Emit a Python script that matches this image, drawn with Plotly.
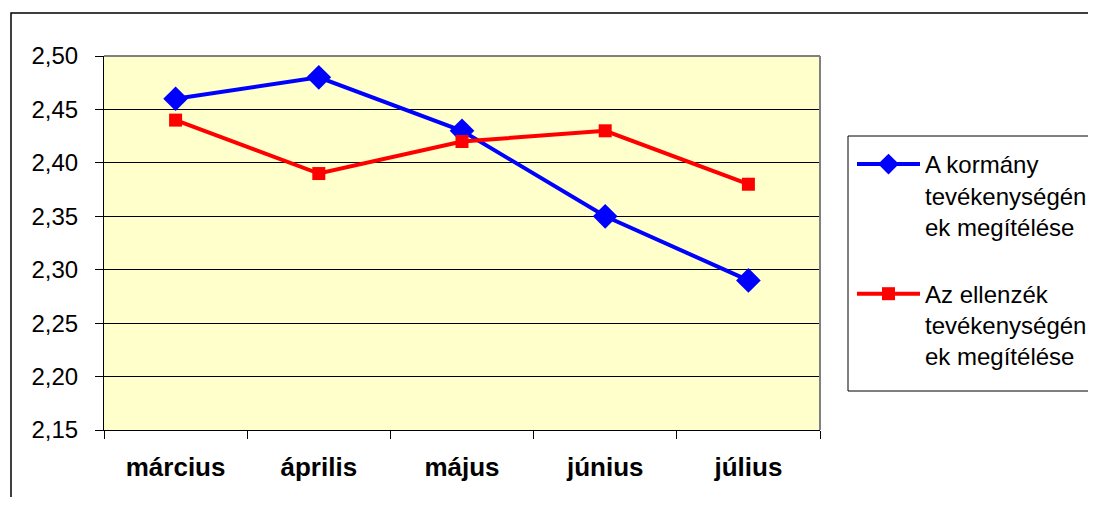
import plotly.graph_objects as go

months = ["március", "április", "május", "június", "július"]
kormany = [2.46, 2.48, 2.43, 2.35, 2.29]
ellenzek = [2.44, 2.39, 2.42, 2.43, 2.38]
name_k = "A kormány<br>tevékenységén<br>ek megítélése"
name_e = "Az ellenzék<br>tevékenységén<br>ek megítélése"
y_ticks = [2.15, 2.20, 2.25, 2.30, 2.35, 2.40, 2.45, 2.50]

FONT = "Liberation Sans, Arial, sans-serif"
OFF = 8  # browser body margin
W, H = 1096 - 2 * OFF, 505 - 2 * OFF
# desired plot area in page pixels
PL, PT, PR, PB = 104, 56, 820, 430
L, T = PL - OFF, PT - OFF
R, B = W - (PR - OFF), H - (PB - OFF)
pw, ph = PR - PL, PB - PT

def px_x(x):
    return (x - PL) / pw

def px_y(y):
    return (PB - y) / ph

fig = go.Figure()
fig.add_trace(go.Scatter(
    x=months, y=kormany, name=name_k, mode="lines+markers",
    line=dict(color="#0000FF", width=4),
    marker=dict(symbol="diamond", size=19, color="#0000FF"),
    legendgroup="k"))
fig.add_trace(go.Scatter(
    x=months, y=ellenzek, name=name_e, mode="lines+markers",
    line=dict(color="#FF0000", width=4),
    marker=dict(symbol="square", size=13, color="#FF0000"),
    legendgroup="e"))

fig.update_layout(
    width=W, height=H,
    margin=dict(l=L, r=R, t=T, b=B, pad=0, autoexpand=False),
    paper_bgcolor="white",
    plot_bgcolor="#FFFFCC",
    separators=", ",
    font=dict(family=FONT, size=24, color="black"),
    showlegend=True,
    legend=dict(
        x=px_x(852), y=px_y(142), xanchor="left", yanchor="top",
        borderwidth=0, bgcolor="rgba(0,0,0,0)",
        font=dict(family=FONT, size=24, color="black"),
        valign="top", tracegroupgap=33, itemwidth=63,
    ),
    xaxis=dict(
        type="category", range=[-0.5, len(months) - 0.5],
        tickson="boundaries", ticks="outside", ticklen=8,
        tickcolor="black", showline=True, linecolor="black", linewidth=1,
        showgrid=False, tickfont=dict(family=FONT, size=26, color="black"),
        ticklabelstandoff=14, fixedrange=True,
    ),
    yaxis=dict(
        range=[2.15, 2.50], tickvals=y_ticks, tickformat=".2f",
        ticks="outside", ticklen=8, tickcolor="black",
        showline=True, linecolor="black", linewidth=1,
        showgrid=True, gridcolor="black", gridwidth=1,
        zeroline=False, tickfont=dict(family=FONT, size=24, color="black"),
        ticklabelstandoff=12, fixedrange=True,
    ),
)
fig.update_xaxes(ticktext=[f"<b>{m}</b>" for m in months], tickvals=months)

# plot area gray border (top and right)
fig.add_shape(type="line", xref="paper", yref="paper", x0=0, x1=1, y0=1, y1=1,
              line=dict(color="#808080", width=2), layer="above")
fig.add_shape(type="line", xref="paper", yref="paper", x0=1, x1=1, y0=0, y1=1,
              line=dict(color="#808080", width=2), layer="above")
# outer chart border
fig.add_shape(type="rect", xref="paper", yref="paper",
              x0=px_x(11), x1=px_x(1140), y0=px_y(13), y1=px_y(530),
              line=dict(color="black", width=1.5), layer="below")
# legend frame
fig.add_shape(type="rect", xref="paper", yref="paper",
              x0=px_x(848), x1=px_x(1140), y0=px_y(136), y1=px_y(391),
              line=dict(color="black", width=1), fillcolor="white", layer="below")

fig.write_html("out.html")
